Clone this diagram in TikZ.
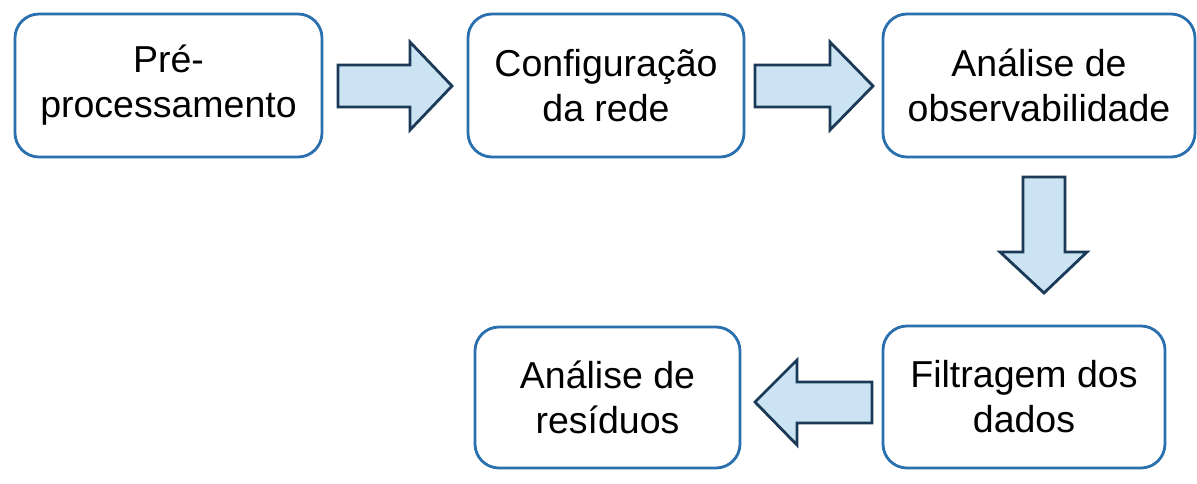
\documentclass[tikz,border=0pt]{standalone}
\usepackage{fontspec}
\setmainfont{Liberation Sans}
\definecolor{boxblue}{HTML}{2A6FAE}
\definecolor{arrowline}{HTML}{1B3A57}
\definecolor{arrowfill}{HTML}{CCE3F3}
\begin{document}
\begin{tikzpicture}[x=1pt,y=1pt,
  stage/.style={draw=boxblue, line width=2.8pt, rounded corners=24pt, fill=white,
    align=center, inner sep=0pt, font=\fontsize{37.5}{45}\selectfont},
  blockarrow/.style={draw=arrowline, line width=2.8pt, fill=arrowfill, line join=miter}]
\useasboundingbox (0,0) rectangle (1197,483);
\fill[white] (0,0) rectangle (1197,483);
% boxes
\node[stage, minimum width=307pt, minimum height=143pt] (b1) at (168.5,397.5) {Pré-\\processamento};
\node[stage, minimum width=276pt, minimum height=143pt] (b2) at (606,397.5) {Configuração\\da rede};
\node[stage, minimum width=312pt, minimum height=143pt] (b3) at (1039,397.5) {Análise de\\observabilidade};
\node[stage, minimum width=282pt, minimum height=142pt] (b4) at (1024,86) {Filtragem dos\\dados};
\node[stage, minimum width=265pt, minimum height=141pt] (b5) at (607.5,85.5) {Análise de\\resíduos};
% block arrows
\draw[blockarrow] (338,376) -- (410,376) -- (410,353) -- (452,397) -- (410,441) -- (410,418) -- (338,418) -- cycle;
\draw[blockarrow] (755,376) -- (830,376) -- (830,353) -- (873,397) -- (830,441) -- (830,418) -- (755,418) -- cycle;
\draw[blockarrow] (1023,306) -- (1065,306) -- (1065,231) -- (1087,231) -- (1044,190) -- (1000,231) -- (1023,231) -- cycle;
\draw[blockarrow] (872,60) -- (797,60) -- (797,38) -- (755,81) -- (797,123) -- (797,101) -- (872,101) -- cycle;
\end{tikzpicture}
\end{document}
